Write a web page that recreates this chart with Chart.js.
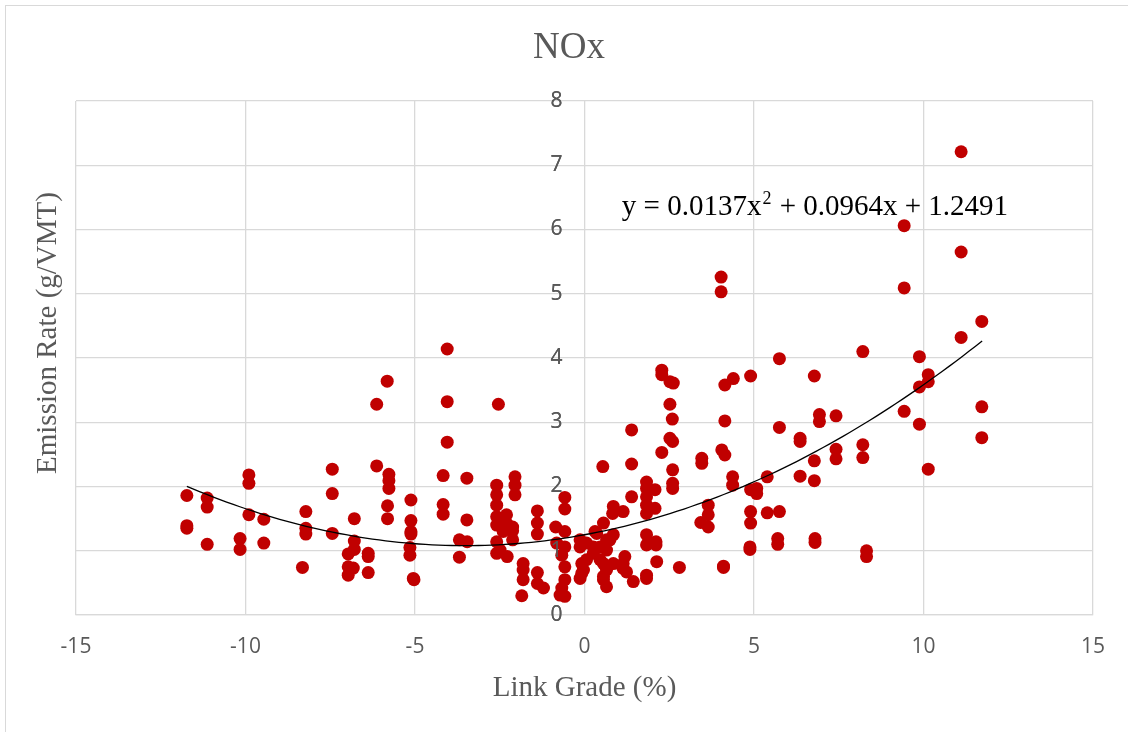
<!DOCTYPE html>
<html>
<head>
<meta charset="utf-8">
<script src="https://cdn.jsdelivr.net/npm/chart.js@4.4.1/dist/chart.umd.min.js"></script>
<style>
  html, body { margin: 0; padding: 0; background: #ffffff; }
  #frame { position: absolute; left: 5px; top: 5px; width: 1140px; height: 740px; border: 1px solid #d9d9d9; box-sizing: border-box; }
  #wrap { position: absolute; left: 0; top: 0; width: 1128px; height: 732px; }
</style>
</head>
<body>
<div id="frame"></div>
<div id="wrap"><canvas id="c" width="1128" height="732"></canvas></div>
<script>
// ---- data ----
const chartTitle = 'NOx';
const xAxisTitle = 'Link Grade (%)';
const yAxisTitle = 'Emission Rate (g/VMT)';

const gradePct = [
  -11.73,-11.73,-11.73,-11.13,-11.13,-11.13,-10.16,-10.16,-9.90,-9.90,-9.90,-9.46,-9.46,-8.32,-8.22,-8.22,-8.22,
  -7.44,-7.44,-7.44,-6.79,-6.79,-6.79,-6.97,-6.97,-6.82,-6.97,-6.38,-6.38,-6.38,-6.13,-6.13,-5.82,-5.77,-5.77,-5.77,-5.81,-5.81,-5.12,-5.12,-5.12,-5.12,-5.15,-5.15,-5.05,-5.03,
  -4.05,-4.05,-4.05,-4.17,-4.17,-4.17,-3.47,-3.47,-3.69,-3.46,-3.69,-2.54,-2.59,-2.59,-2.59,-2.59,-2.59,-2.59,-2.59,-2.49,-2.30,-2.30,-2.40,-2.12,-2.12,-2.12,-2.28,-2.05,-2.05,-2.05,
  -1.81,-1.81,-1.81,-1.85,-1.39,-1.39,-1.21,-1.39,-1.39,-1.39,-0.85,-0.58,-0.58,-0.58,-0.82,-0.58,-0.67,-0.58,-0.58,-0.67,-0.58,-0.72,-0.13,-0.13,
  0.06,0.26,0.46,0.06,-0.03,-0.13,-0.08,-0.08,0.36,0.31,0.56,0.85,1.14,0.83,0.85,0.65,0.75,0.65,0.26,0.46,0.56,0.65,0.56,0.56,0.65,0.65,0.85,1.14,1.24,1.13,1.19,1.44,
  0.54,1.39,1.39,1.39,1.83,1.83,1.83,1.83,1.83,2.08,2.08,1.83,1.83,2.11,2.11,2.13,2.80,1.83,1.83,2.28,2.28,2.52,2.62,2.52,2.59,2.52,2.60,2.28,2.60,2.60,2.60,3.46,3.46,3.65,3.65,3.65,3.43,
  4.03,4.03,4.14,4.39,4.14,4.05,4.14,4.37,4.37,4.10,4.10,4.90,4.90,5.08,5.08,4.90,4.90,4.88,4.88,5.39,5.39,5.75,5.75,5.75,5.70,5.70,
  6.36,6.36,6.36,6.78,6.78,6.78,6.80,6.80,6.93,6.93,7.42,7.42,7.42,8.21,8.21,8.21,8.32,8.32,9.43,9.43,9.43,9.88,9.88,9.88,10.14,10.14,10.14,11.11,11.11,11.11,11.72,11.72,11.72
];

const emissionRate = [
  1.86,1.39,1.35,1.82,1.68,1.10,1.19,1.02,2.18,2.05,1.56,1.49,1.12,0.74,1.61,1.35,1.26,
  2.27,1.89,1.27,1.50,1.15,1.02,0.95,0.75,0.73,0.62,0.96,0.91,0.66,3.28,2.32,3.64,2.19,2.09,1.97,1.70,1.50,1.79,1.47,1.30,1.26,1.05,0.93,0.57,0.55,
  4.14,3.32,2.69,2.17,1.72,1.57,2.13,1.48,1.17,1.14,0.90,3.28,2.02,1.87,1.71,1.53,1.40,1.14,0.96,1.01,1.56,1.43,1.30,1.37,1.31,1.17,0.91,2.15,2.02,1.87,
  0.80,0.70,0.55,0.30,0.66,0.49,0.42,1.62,1.43,1.26,1.37,1.83,1.65,1.30,1.12,1.06,0.93,0.75,0.55,0.42,0.29,0.31,1.17,1.06,
  1.12,1.06,1.06,0.86,0.70,0.57,0.80,0.65,1.27,1.30,1.43,1.69,1.61,1.58,1.25,1.17,1.17,1.01,0.96,0.86,0.80,0.73,0.60,0.55,0.44,0.70,0.80,0.80,0.67,0.73,0.91,0.52,
  2.31,2.88,2.35,1.84,2.07,1.97,1.84,1.71,1.58,1.95,1.66,1.25,1.09,1.14,1.09,0.83,0.74,0.62,0.57,3.81,3.74,3.63,3.61,3.28,3.05,2.75,2.70,2.53,2.26,2.05,1.97,2.44,2.36,1.71,1.56,1.37,1.44,
  5.26,5.03,3.58,3.68,3.02,2.57,2.49,2.15,2.02,0.76,0.74,3.72,1.95,1.97,1.89,1.61,1.43,1.06,1.02,2.15,1.59,3.99,2.92,1.61,1.19,1.10,
  2.75,2.70,2.16,3.72,2.40,2.09,1.19,1.13,3.12,3.01,3.10,2.58,2.43,4.10,2.65,2.45,1.00,0.91,6.06,5.09,3.17,4.02,3.55,2.97,3.74,3.63,2.27,7.21,5.65,4.32,4.57,3.24,2.76
];

const xTickValues = [-15, -10, -5, 0, 5, 10, 15];
const yTickValues = [0, 1, 2, 3, 4, 5, 6, 7, 8];

// polynomial trendline printed on the chart: y = c2 x^2 + c1 x + c0
const trendCoef = [1.2491, 0.0964, 0.0137];   // c0, c1, c2
const trendXRange = [-11.73, 11.73];

// ---- build chart structures ----
const scatterPoints = gradePct.map((g, i) => ({ x: g, y: emissionRate[i] }));
const trendPoints = [];
for (let k = 0; k <= 120; k++) {
  const xv = trendXRange[0] + (trendXRange[1] - trendXRange[0]) * k / 120;
  trendPoints.push({ x: xv, y: trendCoef[0] + trendCoef[1] * xv + trendCoef[2] * xv * xv });
}
const eqMain = 'y = ' + trendCoef[2].toFixed(4) + 'x';
const eqSup = '2';
const eqRest = ' + ' + trendCoef[1].toFixed(4) + 'x + ' + trendCoef[0].toFixed(4);

const GRID = '#d9d9d9';
const TXT = '#595959';
const SERIF = '"Liberation Serif", "Times New Roman", serif';

const equationPlugin = {
  id: 'equationLabel',
  afterDatasetsDraw(chart, args, opts) {
    const { ctx, scales } = chart;
    // redraw the value-axis labels on top of the markers, as the reference does
    scales.y.drawLabels(chart.chartArea);
    const px = scales.x.getPixelForValue(opts.at[0]);
    const py = scales.y.getPixelForValue(opts.at[1]);
    ctx.save();
    ctx.fillStyle = '#000000';
    ctx.textAlign = 'left';
    ctx.textBaseline = 'alphabetic';
    ctx.font = '29px ' + SERIF;
    let cx = px;
    ctx.fillText(eqMain, cx, py);
    cx += ctx.measureText(eqMain).width;
    ctx.font = '18px ' + SERIF;
    ctx.fillText(eqSup, cx + 1, py - 11);
    cx += ctx.measureText(eqSup).width + 2;
    ctx.font = '29px ' + SERIF;
    ctx.fillText(eqRest, cx, py);
    ctx.restore();
  }
};

const titlesPlugin = {
  id: 'freeTitles',
  afterDraw(chart, args, opts) {
    const { ctx } = chart;
    ctx.save();
    ctx.fillStyle = TXT;
    ctx.textAlign = 'center';
    ctx.textBaseline = 'middle';
    ctx.font = '37px ' + SERIF;
    ctx.fillText(chartTitle, opts.main[0], opts.main[1]);
    ctx.translate(opts.yTitle[0], opts.yTitle[1]);
    ctx.rotate(-Math.PI / 2);
    ctx.font = '29px ' + SERIF;
    ctx.fillText(yAxisTitle, 0, 0);
    ctx.restore();
  }
};

new Chart(document.getElementById('c'), {
  type: 'scatter',
  data: {
    datasets: [
      {
        label: 'Trend',
        data: trendPoints,
        showLine: true,
        borderColor: '#000000',
        borderWidth: 1.3,
        pointRadius: 0,
        fill: false,
        order: 0
      },
      {
        label: 'NOx',
        data: scatterPoints,
        pointRadius: 6.5,
        pointHoverRadius: 6.5,
        backgroundColor: '#c00000',
        borderColor: '#c00000',
        borderWidth: 0,
        order: 1
      }
    ]
  },
  options: {
    responsive: false,
    animation: false,
    devicePixelRatio: 1,
    layout: { padding: { top: 101, left: 76, right: 35, bottom: 21.6 } },
    plugins: {
      legend: { display: false },
      tooltip: { enabled: false },
      title: { display: false },
      equationLabel: { at: [1.1, 6.23] },
      freeTitles: { main: [569, 48], yTitle: [48, 333] }
    },
    scales: {
      x: {
        type: 'linear',
        position: 'bottom',
        min: -15,
        max: 15,
        afterBuildTicks: (s) => { s.ticks = xTickValues.map(v => ({ value: v })); },
        grid: { color: GRID, lineWidth: 1.3, drawTicks: false },
        border: { color: GRID, width: 1.3 },
        ticks: {
          color: TXT,
          padding: 19.4,
          font: { family: '"Open Sans", sans-serif', size: 21 },
          callback: (v) => String(v)
        },
        title: {
          display: true,
          text: xAxisTitle,
          color: TXT,
          font: { family: SERIF, size: 29 },
          padding: { top: -8.4, bottom: 5 }
        }
      },
      y: {
        type: 'linear',
        position: { x: -0.65 },
        min: 0,
        max: 8,
        afterBuildTicks: (s) => { s.ticks = yTickValues.map(v => ({ value: v })); },
        grid: { color: GRID, lineWidth: 1.3, drawTicks: false },
        border: { display: false },
        ticks: {
          color: TXT,
          padding: 0,
          font: { family: '"Open Sans", sans-serif', size: 21 },
          callback: (v) => String(v)
        }
      }
    }
  },
  plugins: [equationPlugin, titlesPlugin]
});
</script>
</body>
</html>
